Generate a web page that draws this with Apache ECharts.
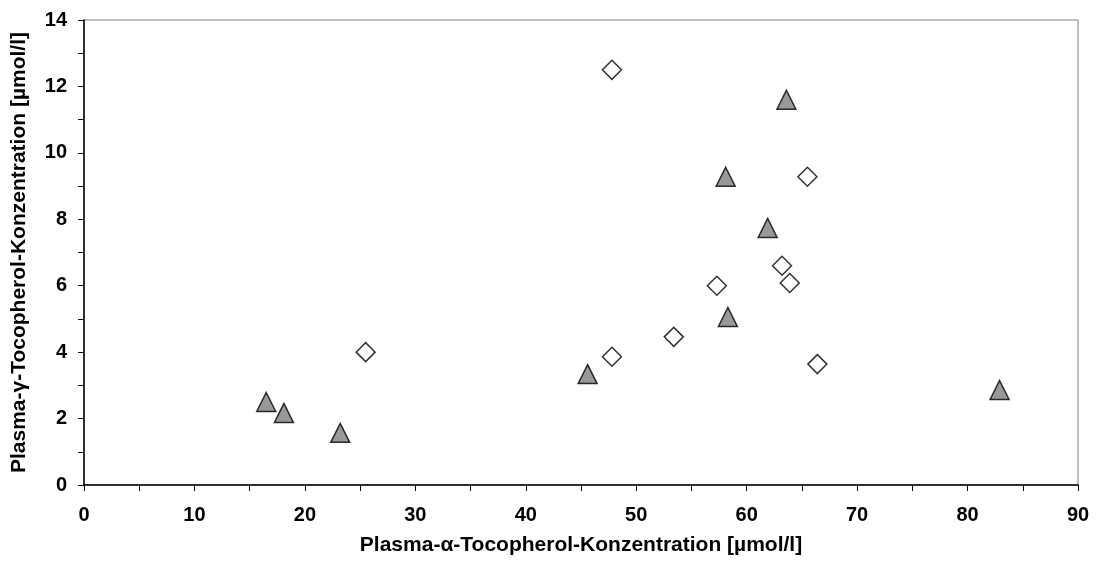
<!DOCTYPE html>
<html>
<head>
<meta charset="utf-8">
<script src="https://cdn.jsdelivr.net/npm/echarts@6/dist/echarts.min.js"></script>
<style>html,body{margin:0;padding:0;background:#fff}#c{width:1098px;height:569px}</style>
</head>
<body>
<div id="c"></div>
<script>
// Data: [alpha-tocopherol, gamma-tocopherol]
const triangleSeries = [[16.5,2.5],[18.1,2.17],[23.2,1.57],[45.6,3.34],[58.1,9.28],[58.3,5.06],[61.9,7.74],[63.6,11.6],[82.9,2.86]];
const diamondSeries = [[25.5,4.0],[47.8,12.5],[47.8,3.86],[53.4,4.46],[57.3,6.0],[63.2,6.6],[63.9,6.08],[65.5,9.28],[66.4,3.64]];
const xTitle = 'Plasma-\u03b1-Tocopherol-Konzentration [\u00b5mol/l]';
const yTitle = 'Plasma-\u03b3-Tocopherol-Konzentration [\u00b5mol/l]';

const font = 'Liberation Sans, Arial, sans-serif';
const chart = echarts.init(document.getElementById('c'), null, {renderer:'canvas'});
chart.setOption({
  animation:false,
  backgroundColor:'#fff',
  grid:{left:84,right:20,top:20,bottom:84,show:true,borderColor:'#808080',borderWidth:1,containLabel:false},
  xAxis:{
    type:'value',min:0,max:90,interval:10,
    name:xTitle,nameLocation:'middle',nameGap:50,
    nameTextStyle:{fontFamily:font,fontWeight:'bold',fontSize:21,color:'#000'},
    axisLine:{show:true,lineStyle:{color:'#000',width:1.5}},
    axisTick:{show:true,inside:false,length:6,lineStyle:{color:'#000',width:1}},
    minorTick:{show:true,splitNumber:2,length:6,lineStyle:{color:'#000',width:1}},
    splitLine:{show:false},
    axisLabel:{fontFamily:font,fontWeight:'bold',fontSize:20,color:'#000',margin:20}
  },
  yAxis:{
    type:'value',min:0,max:14,interval:2,
    name:yTitle,nameLocation:'middle',nameGap:54,nameRotate:90,
    nameTextStyle:{fontFamily:font,fontWeight:'bold',fontSize:21,color:'#000'},
    axisLine:{show:true,lineStyle:{color:'#000',width:1.5}},
    axisTick:{show:true,inside:false,length:6,lineStyle:{color:'#000',width:1}},
    minorTick:{show:true,splitNumber:2,length:6,lineStyle:{color:'#000',width:1}},
    splitLine:{show:false},
    axisLabel:{fontFamily:font,fontWeight:'bold',fontSize:20,color:'#000',margin:17}
  },
  series:[
    {type:'scatter',data:triangleSeries,symbol:'triangle',symbolSize:19,
     itemStyle:{color:'#808080',borderColor:'#000',borderWidth:1.5}},
    {type:'scatter',data:diamondSeries,symbol:'diamond',symbolSize:19,
     itemStyle:{color:'#fff',borderColor:'#000',borderWidth:1.5}}
  ]
});
</script>
</body>
</html>
